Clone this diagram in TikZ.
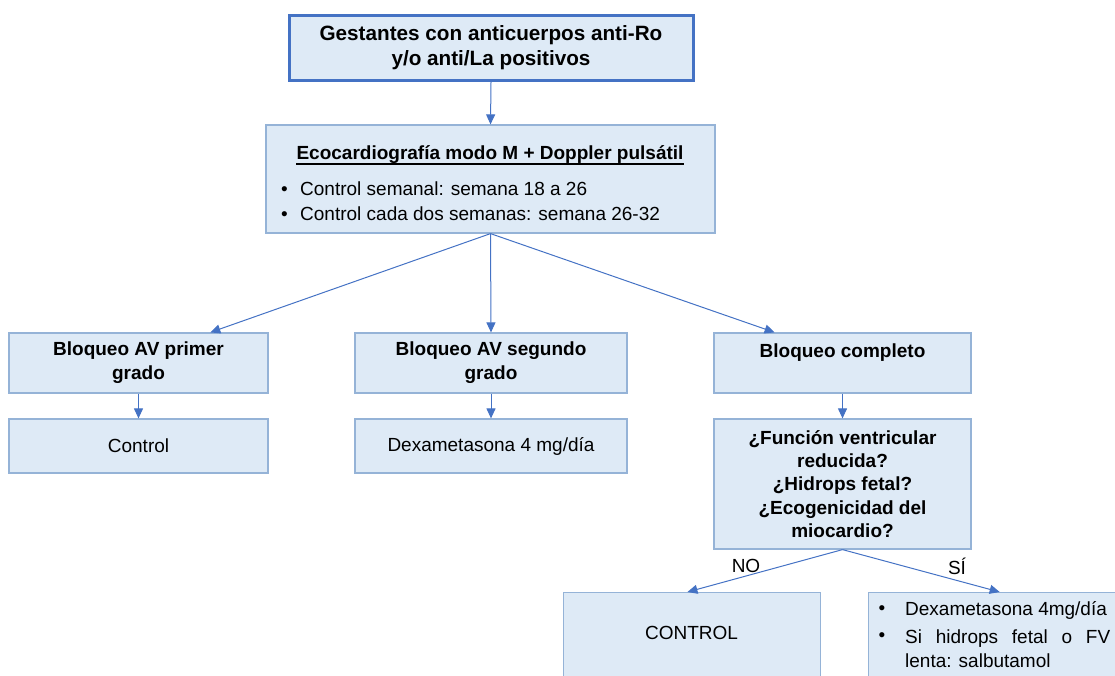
\documentclass[tikz,border=0pt]{standalone}
\usepackage{fontspec}
\setmainfont{Liberation Sans}
\usetikzlibrary{arrows.meta,calc}
\definecolor{boxfill}{HTML}{DEEAF6}
\definecolor{boxline}{HTML}{95B3D7}
\definecolor{darkline}{HTML}{4472C4}
\definecolor{arrowc}{HTML}{4472C4}
\newcommand{\blt}{\makebox[19pt][l]{\textbullet}}
\begin{document}
\begin{tikzpicture}[x=1pt,y=-1pt,
  font=\fontsize{19}{24}\selectfont,
  box/.style={draw=boxline, fill=boxfill, line width=1.2pt, inner sep=0pt, align=center},
  bigbox/.style={box, draw=darkline, line width=3pt},
  boldbox/.style={box, font=\fontsize{19}{24}\selectfont\bfseries},
  arr/.style={draw=arrowc, line width=1pt, -{Triangle[length=10pt,width=9pt]}},
  lbl/.style={inner sep=0pt}]
\useasboundingbox (0,0) rectangle (1115,675);

% top box
\node[bigbox, minimum width=404pt, minimum height=65pt,
      font=\fontsize{20.7}{25}\selectfont\bfseries] (top) at (491,48)
  {Gestantes con anticuerpos anti-Ro\\y/o anti/La positivos};

% echocardiography box with underlined title and bullets
\node[box, minimum width=449pt, minimum height=108pt] (eco) at (490.5,179) {};
\node[lbl] (ecot) at (490,155) {\textbf{Ecocardiografía modo M + Doppler pulsátil}};
\draw[line width=1.6pt] ([yshift=-4pt]ecot.base west) -- ([yshift=-4pt]ecot.base east);
\node[lbl, anchor=west] (ecob1) at (281,189) {\blt Control semanal: semana 18 a 26};
\node[lbl, anchor=west] (ecob2) at (281,214) {\blt Control cada dos semanas: semana 26-32};

% block degrees
\node[boldbox, minimum width=259pt, minimum height=60pt] (b1) at (138.5,363)
  {Bloqueo AV primer\\grado};
\node[boldbox, minimum width=272pt, minimum height=60pt] (b2) at (491,363)
  {Bloqueo AV segundo\\grado};
\node[boldbox, minimum width=257pt, minimum height=60pt] (b3) at (842.5,363)
  {Bloqueo completo\\\mbox{}};

\node[box, minimum width=259pt, minimum height=54pt] (c1) at (138.5,446) {Control};
\node[box, minimum width=272pt, minimum height=54pt] (c2) at (491,446) {Dexametasona 4 mg/día};
\node[box, minimum width=257pt, minimum height=130pt, font=\fontsize{19}{23.2}\selectfont\bfseries] (q) at (842.5,484)
  {¿Función ventricular\\reducida?\\¿Hidrops fetal?\\¿Ecogenicidad del\\miocardio?};

% outcome boxes (run past the lower and right edges)
\node[box, minimum width=257pt, minimum height=100pt, anchor=north west] (ctrl) at (563,592) {};
\node[lbl] (ctrlt) at (691.5,633) {CONTROL};
\node[box, minimum width=257pt, minimum height=100pt, anchor=north west] (sal) at (868,592) {};
\node[lbl] (salb1) at (882,610) {\textbullet};
\node[lbl, anchor=west] (salt1) at (905,610) {Dexametasona 4mg/día};
\node[lbl] (salb2) at (882,637) {\textbullet};
\node[lbl, anchor=base west, text width=205pt, align=justify] (salt2) at (905,643.5)
  {Si hidrops fetal o FV\linebreak lenta: salbutamol};

% connectors
\draw[arr] (top.south) -- (eco.north);
\draw[arr] (eco.south) -- ($(b1.north west)!0.776!(b1.north east)$);
\draw[arr] (eco.south) -- (b2.north);
\draw[arr] (eco.south) -- ($(b3.north west)!0.237!(b3.north east)$);
\draw[arr] (b1.south) -- (c1.north);
\draw[arr] (b2.south) -- (c2.north);
\draw[arr] (b3.south) -- (q.north);
\draw[arr] (q.south) -- ($(ctrl.north west)!0.482!(ctrl.north east)$);
\draw[arr] (q.south) -- ($(sal.north west)!0.51!(sal.north east)$);

\node[lbl] (no) at (746,566) {NO};
\node[lbl] (si) at (957,566) {SÍ};
\end{tikzpicture}
\end{document}
